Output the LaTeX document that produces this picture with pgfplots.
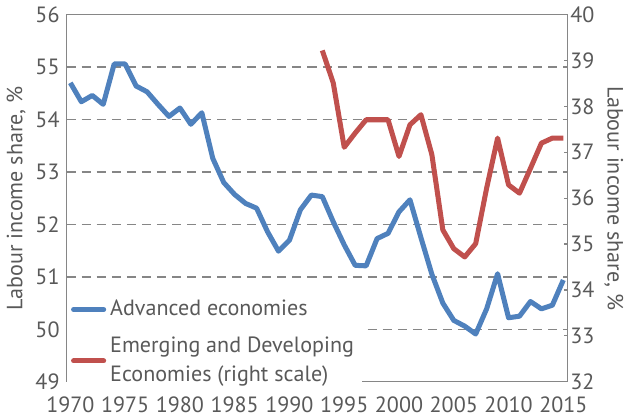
\documentclass[border=0pt]{standalone}
\usepackage{pgfplots}
\pgfplotsset{compat=1.18}
\usepackage{fontspec}
\setmainfont{PT Sans}

\definecolor{advblue}{HTML}{4F81BD}
\definecolor{emred}{HTML}{C0504D}
\definecolor{txtgray}{HTML}{595959}
\definecolor{axgray}{HTML}{868686}

\newcommand{\chartfont}{\fontsize{11}{14.5}\selectfont}

\begin{document}
\begin{tikzpicture}
\pgfplotsset{
  common/.style={
    scale only axis, width=249.5pt, height=182.9pt,
    xmin=1969.66, xmax=2015.37,
    font=\chartfont,
    tick label style={font=\chartfont, text=txtgray},
    label style={font=\chartfont, text=txtgray},
    /pgf/number format/assume math mode=true,
    axis line style={axgray, line width=0.6pt},
    every tick/.style={axgray, line width=0.6pt},
  },
}

% left scale: advanced economies
\begin{axis}[
  common,
  ymin=49, ymax=56, ytick={49,50,...,56},
  xtick={1970,1975,...,2015},
  xticklabel style={/pgf/number format/1000 sep={}, yshift=-4pt},
  ytick pos=left, xtick pos=bottom,
  major tick length=0pt,
  ymajorgrids, grid style={axgray, line width=0.7pt, dash pattern=on 4.5pt off 3pt},
  ylabel={Labour income share, \%},
  ylabel style={yshift=-2pt},
]
\addplot[advblue, line width=2.5pt, line join=round] coordinates {
  (1970,54.70) (1971,54.34) (1972,54.46) (1973,54.29) (1974,55.06)
  (1975,55.06) (1976,54.64) (1977,54.53) (1978,54.29) (1979,54.06)
  (1980,54.22) (1981,53.91) (1982,54.13) (1983,53.26) (1984,52.80)
  (1985,52.57) (1986,52.40) (1987,52.31) (1988,51.86) (1989,51.49)
  (1990,51.70) (1991,52.28) (1992,52.56) (1993,52.53) (1994,52.05)
  (1995,51.61) (1996,51.22) (1997,51.21) (1998,51.73) (1999,51.83)
  (2000,52.24) (2001,52.47) (2002,51.75) (2003,51.05) (2004,50.50)
  (2005,50.17) (2006,50.06) (2007,49.91) (2008,50.39) (2009,51.06)
  (2010,50.22) (2011,50.25) (2012,50.53) (2013,50.39) (2014,50.46)
  (2015,50.94)
};
\end{axis}

% right scale: emerging and developing economies
\begin{axis}[
  common,
  ymin=32, ymax=40, ytick={32,33,...,40},
  axis x line=none,
  axis y line*=right,
  tick align=inside, major tick length=1.5pt,
  yticklabel style={xshift=-2pt},
  ylabel={Labour income share, \%},
  ylabel style={rotate=180, yshift=-2pt},
  legend style={at={(0.0,0.245)}, anchor=north west, draw=none, fill=white,
    font=\chartfont, text=txtgray, cells={anchor=west, align=left},
    row sep=5pt, inner xsep=2pt},
  legend image code/.code={
    \draw[#1, line width=2.5pt, line cap=round] (0pt,0pt) -- (15pt,0pt);},
]
\addlegendimage{advblue}
\addlegendentry{Advanced economies}
\addplot[emred, line width=2.5pt, line join=round] coordinates {
  (1993,39.22) (1994,38.51) (1995,37.11) (1996,37.42) (1997,37.71)
  (1998,37.71) (1999,37.71) (2000,36.91) (2001,37.60) (2002,37.82)
  (2003,36.95) (2004,35.31) (2005,34.90) (2006,34.72) (2007,35.01)
  (2008,36.22) (2009,37.31) (2010,36.29) (2011,36.11) (2012,36.65)
  (2013,37.20) (2014,37.31) (2015,37.31)
};
\addlegendentry{Emerging and Developing\\Economies (right scale)}
\end{axis}
\end{tikzpicture}
\end{document}
